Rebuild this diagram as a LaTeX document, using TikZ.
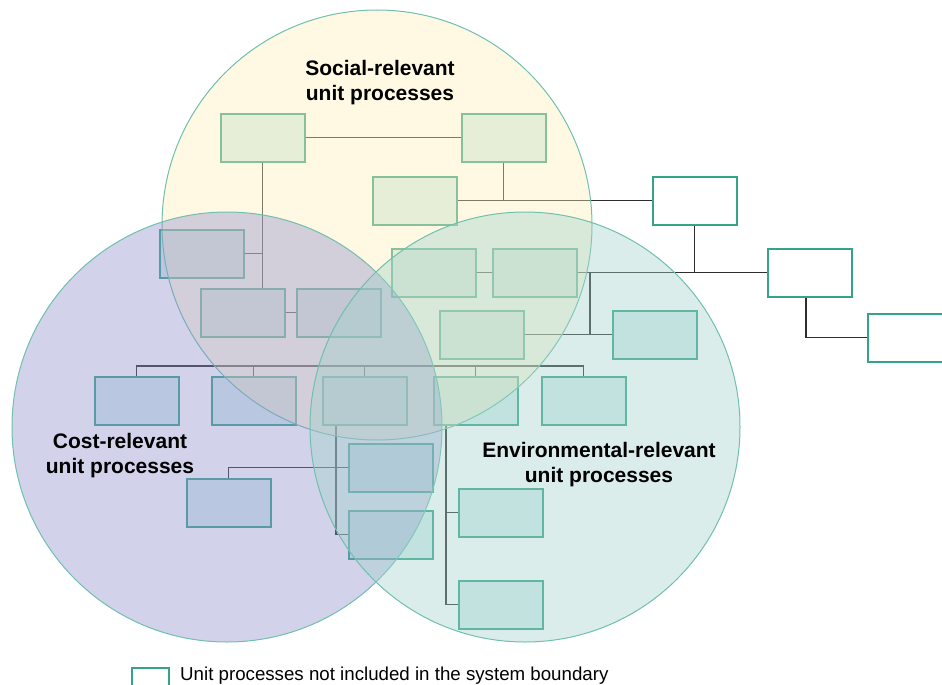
\documentclass[tikz,border=0pt]{standalone}
\usepackage{fontspec}
\setmainfont{Liberation Sans}
\definecolor{boxc}{HTML}{36A28A}
\definecolor{boxfill}{HTML}{D8EEED}
\definecolor{linec}{HTML}{2E2E2E}
\definecolor{yelC}{HTML}{FFF0B9}
\definecolor{purC}{HTML}{8E8ECD}
\definecolor{teaC}{HTML}{A2D2CA}
\definecolor{ringc}{HTML}{6FC0AE}
\tikzset{
  upbox/.style={draw=boxc, fill=boxfill, line width=1.6pt, minimum width=84pt, minimum height=48pt, inner sep=0pt, anchor=north west},
  outbox/.style={upbox, fill=white},
  link/.style={draw=linec, line width=1.25pt},
  ring/.style={draw=ringc, line width=1pt, fill opacity=0.4},
  lab/.style={font=\bfseries\fontsize{21}{25}\selectfont, align=center, text=black},
}
\begin{document}
\begin{tikzpicture}[x=1pt,y=-1pt]
\useasboundingbox (0,0) rectangle (942,685);
% boxes
\node[upbox] (A) at (220,113) {};
\node[upbox] (B) at (461,113) {};
\node[upbox] (C) at (372,176) {};
\node[outbox] (O1) at (652,176) {};
\node[upbox] (D) at (159,229) {};
\node[upbox] (E) at (391,248) {};
\node[upbox] (F) at (492,248) {};
\node[outbox] (O2) at (767,248) {};
\node[upbox] (G) at (200,288) {};
\node[upbox] (H) at (296,288) {};
\node[upbox] (I) at (439,310) {};
\node[upbox] (J) at (612,310) {};
\node[outbox] (O3) at (867,313) {};
\node[upbox] (K) at (94,376) {};
\node[upbox] (L) at (211,376) {};
\node[upbox] (M) at (322,376) {};
\node[upbox] (N) at (433,376) {};
\node[upbox] (O) at (541,376) {};
\node[upbox] (P) at (348,443) {};
\node[upbox] (Q) at (186,478) {};
\node[upbox] (R) at (348,510) {};
\node[upbox] (S) at (458,488) {};
\node[upbox] (T) at (458,580) {};
% connectors
\draw[link] (A.east) -- (B.west);
\draw[link] (A.south) -- (A.south |- G.north);
\draw[link] (D.east) -- (D.east -| A.south);
\draw[link] (G.east) -- (H.west);
\draw[link] (B.south) -- (B.south |- C.east);
\draw[link] (C.east) -- (O1.west);
\draw[link] (O1.south) -- (O1.south |- F.east);
\draw[link] (E.east) -- (F.west);
\draw[link] (F.east) -- (O2.west);
\coordinate (v1) at (590,272);
\draw[link] (v1) -- (v1 |- I.east);
\draw[link] (I.east) -- (J.west);
\coordinate (o2v) at ([xshift=39pt]O2.south west);
\draw[link] (o2v) |- (O3.west);
\coordinate (bus) at (0,366);
\draw[link] (K.north) -- (K.north |- bus) -- (O.north |- bus) -- (O.north);
\draw[link] (L.north) -- (L.north |- bus);
\draw[link] (M.north) -- (M.north |- bus);
\draw[link] (N.north) -- (N.north |- bus);
\coordinate (mv) at ([xshift=14pt]M.south west);
\draw[link] (mv) |- (R.west);
\draw[link] (mv |- P.west) -- (P.west);
\draw[link] (Q.north) |- (P.west);
\coordinate (nv) at ([xshift=13pt]N.south west);
\draw[link] (nv) |- (T.west);
\draw[link] (nv |- S.west) -- (S.west);
% circles
\path[ring, fill=yelC] (377,225) circle (215);
\path[ring, fill=purC] (227,427) circle (215);
\path[ring, fill=teaC] (525,427) circle (215);
% labels
\node[lab] (ls) at (380,83) {Social-relevant\\unit processes};
\node[lab] (lc) at (120,456) {Cost-relevant\\unit processes};
\node[lab] (le) at (599,465) {Environmental-relevant\\unit processes};
% legend
\node[outbox, minimum width=37pt, minimum height=30pt] (leg) at (131,667) {};
\node[anchor=base west, font=\fontsize{18.7}{22}\selectfont, inner sep=0pt] (legt) at (180,680.5) {Unit processes not included in the system boundary};
\end{tikzpicture}
\end{document}
